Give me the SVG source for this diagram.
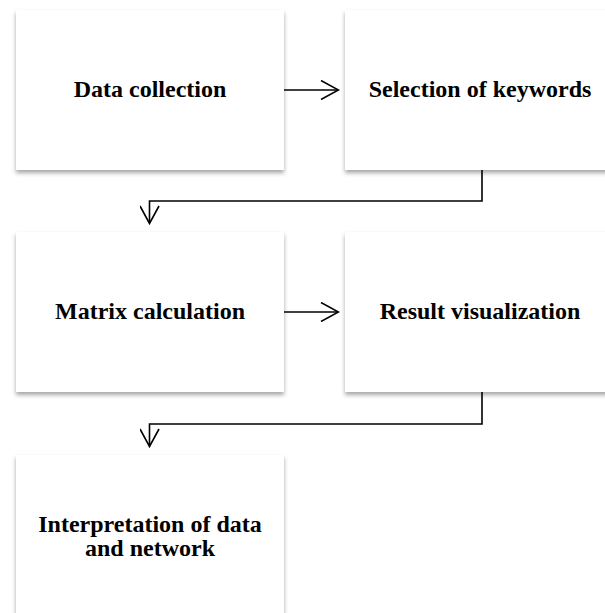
<svg xmlns="http://www.w3.org/2000/svg" width="605" height="613" viewBox="0 0 605 613">
<defs>
<filter id="sh" x="-10%" y="-10%" width="120%" height="130%">
<feDropShadow dx="0" dy="3" stdDeviation="2" flood-color="#000" flood-opacity="0.35"/>
</filter>
<marker id="arr" viewBox="0 0 20 20" refX="18" refY="10" markerWidth="20" markerHeight="20" markerUnits="userSpaceOnUse" orient="auto">
<path d="M1,0.5 L18.5,10 L1,19.5" fill="none" stroke="#000" stroke-width="1.6"/>
</marker>
<style>
.box{fill:#fff;filter:url(#sh);}
.t{font-family:"Liberation Serif","Times New Roman",serif;font-weight:bold;font-size:24px;fill:#000;text-anchor:middle;}
.c{fill:none;stroke:#000;stroke-width:1.6;}
</style>
</defs>
<rect width="605" height="613" fill="#fff"/>
<g id="n1"><rect class="box" x="16" y="10" width="268" height="160"/><text class="t" x="150" y="97">Data collection</text></g>
<g id="n2"><rect class="box" x="345" y="10" width="270" height="160"/><text class="t" x="480" y="97">Selection of keywords</text></g>
<g id="n3"><rect class="box" x="16" y="232" width="268" height="160"/><text class="t" x="150" y="319">Matrix calculation</text></g>
<g id="n4"><rect class="box" x="345" y="232" width="270" height="160"/><text class="t" x="480" y="319">Result visualization</text></g>
<g id="n5"><rect class="box" x="16" y="455" width="268" height="160"/><text class="t" x="150" y="532"><tspan x="150" y="532">Interpretation of data</tspan><tspan x="150" y="556">and network</tspan></text></g>
<g id="connectors">
<path class="c" d="M284,90 H338" marker-end="url(#arr)"/>
<path class="c" d="M482,170 V201 H149.5 V223" marker-end="url(#arr)"/>
<path class="c" d="M284,312 H338" marker-end="url(#arr)"/>
<path class="c" d="M482,392 V424 H149.5 V446" marker-end="url(#arr)"/>
</g>
</svg>
